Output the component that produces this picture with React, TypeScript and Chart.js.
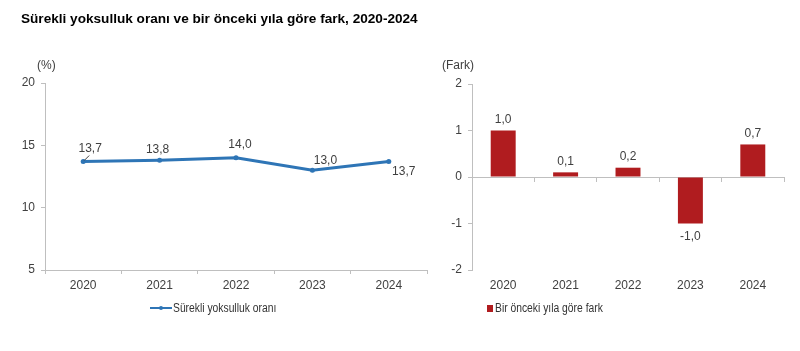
import React, { useEffect, useRef } from "react";
import { Chart, registerables } from "chart.js";

Chart.register(...registerables);

// ---- data ----
const years = ["2020", "2021", "2022", "2023", "2024"];
const rateValues = [13.7, 13.8, 14.0, 13.0, 13.7];
const diffValues = [1.0, 0.1, 0.2, -1.0, 0.7];
const rateTicks = [5, 10, 15, 20];
const diffTicks = [-2, -1, 0, 1, 2];
const titleText = "Sürekli yoksulluk oranı ve bir önceki yıla göre fark, 2020-2024";
const rateUnit = "(%)";
const diffUnit = "(Fark)";
const rateLegend = "Sürekli yoksulluk oranı";
const diffLegend = "Bir önceki yıla göre fark";

// ---- styles ----
const FONT = "'Liberation Sans', Arial, sans-serif";
const TEXT = "#404040";
const AXIS = "#bfbfbf";
const BLUE = "#2e75b6";
const RED = "#b01c1f";
// label offsets (dx, dy) relative to each point, in px
const rateLabelOffsets = [
  [7, -13],
  [-2, -11],
  [4, -13],
  [13, -10],
  [15, 10],
];

const fmt = (v: number) => v.toFixed(1).replace(".", ",");

const rateLabelPlugin = {
  id: "rateLabels",
  afterDatasetsDraw(chart: any) {
    const ctx = chart.ctx;
    const meta = chart.getDatasetMeta(0);
    ctx.save();
    ctx.font = `12px ${FONT}`;
    ctx.fillStyle = TEXT;
    ctx.textAlign = "center";
    ctx.textBaseline = "middle";
    meta.data.forEach((pt: any, i: number) => {
      const [dx, dy] = rateLabelOffsets[i];
      ctx.fillText(fmt(rateValues[i]), pt.x + dx, pt.y + dy);
    });
    // small leader line for the first label
    const p0 = meta.data[0];
    if (p0) {
      ctx.strokeStyle = "#404040";
      ctx.lineWidth = 1;
      ctx.beginPath();
      ctx.moveTo(p0.x + 1, p0.y - 1);
      ctx.lineTo(p0.x + 6, p0.y - 6);
      ctx.stroke();
    }
    ctx.restore();
  },
};

const diffLabelPlugin = {
  id: "diffLabels",
  afterDatasetsDraw(chart: any) {
    const ctx = chart.ctx;
    const meta = chart.getDatasetMeta(0);
    ctx.save();
    ctx.font = `12px ${FONT}`;
    ctx.fillStyle = TEXT;
    ctx.textAlign = "center";
    ctx.textBaseline = "middle";
    meta.data.forEach((bar: any, i: number) => {
      const v = diffValues[i];
      const y = v >= 0 ? bar.y - 11 : bar.y + 13;
      ctx.fillText(fmt(v), bar.x, y);
    });
    ctx.restore();
  },
};

const tickFont = { family: FONT, size: 12 };

function RateChart() {
  const ref = useRef<HTMLCanvasElement | null>(null);
  useEffect(() => {
    if (!ref.current) return;
    const chart = new Chart(ref.current, {
      type: "line",
      data: {
        labels: years,
        datasets: [
          {
            label: rateLegend,
            data: rateValues,
            borderColor: BLUE,
            backgroundColor: BLUE,
            borderWidth: 3,
            pointRadius: 2.5,
            pointBackgroundColor: BLUE,
            pointBorderWidth: 0,
            tension: 0,
          },
        ],
      },
      options: {
        responsive: false,
        animation: false,
        devicePixelRatio: 1,
        layout: { padding: { top: 83, left: 0, right: 8, bottom: 51 } },
        plugins: { legend: { display: false }, tooltip: { enabled: false } },
        scales: {
          x: {
            offset: true,
            grid: { display: true, offset: true, drawOnChartArea: false, drawTicks: true, tickLength: 4, color: AXIS },
            border: { display: true, color: AXIS },
            ticks: { font: tickFont, color: TEXT, padding: 4, maxRotation: 0 },
            afterFit: (s: any) => { s.height = 30; },
          },
          y: {
            min: 5,
            max: 20,
            afterBuildTicks: (s: any) => { s.ticks = rateTicks.map((v) => ({ value: v })); },
            grid: { display: true, drawOnChartArea: false, drawTicks: true, tickLength: 4, color: AXIS },
            border: { display: true, color: AXIS },
            ticks: { font: tickFont, color: TEXT, padding: 6 },
            afterFit: (s: any) => { s.width = 45; },
          },
        },
      },
      plugins: [rateLabelPlugin],
    } as any);
    return () => chart.destroy();
  }, []);
  return <canvas ref={ref} width={435} height={351} style={{ position: "absolute", left: 0, top: 0 }} />;
}

function DiffChart() {
  const ref = useRef<HTMLCanvasElement | null>(null);
  useEffect(() => {
    if (!ref.current) return;
    const chart = new Chart(ref.current, {
      type: "bar",
      data: {
        labels: years,
        datasets: [
          {
            label: diffLegend,
            data: diffValues,
            backgroundColor: RED,
            borderWidth: 0,
            categoryPercentage: 0.4,
            barPercentage: 1,
          },
        ],
      },
      options: {
        responsive: false,
        animation: false,
        devicePixelRatio: 1,
        layout: { padding: { top: 84, left: 0, right: 16, bottom: 51 } },
        plugins: { legend: { display: false }, tooltip: { enabled: false } },
        scales: {
          x: {
            offset: true,
            grid: { display: false },
            border: { display: false },
            ticks: { font: tickFont, color: TEXT, padding: 0, maxRotation: 0 },
            afterFit: (s: any) => { s.height = 30; },
          },
          x2: {
            type: "category",
            position: { y: 0 },
            offset: true,
            grid: { display: true, offset: true, drawOnChartArea: false, drawTicks: true, tickLength: 4, color: AXIS },
            border: { display: true, color: AXIS },
            ticks: { display: false },
          },
          y: {
            min: -2,
            max: 2,
            afterBuildTicks: (s: any) => { s.ticks = diffTicks.map((v) => ({ value: v })); },
            grid: { display: true, drawOnChartArea: false, drawTicks: true, tickLength: 4, color: AXIS },
            border: { display: true, color: AXIS },
            ticks: { font: tickFont, color: TEXT, padding: 6 },
            afterFit: (s: any) => { s.width = 37; },
          },
        },
      },
      plugins: [diffLabelPlugin],
    } as any);
    return () => chart.destroy();
  }, []);
  return <canvas ref={ref} width={365} height={351} style={{ position: "absolute", left: 435, top: 0 }} />;
}

export default function App() {
  const txt: React.CSSProperties = { position: "absolute", fontFamily: FONT, fontSize: 12, color: TEXT, whiteSpace: "nowrap", lineHeight: "14px" };
  const legendTxt: React.CSSProperties = { ...txt, color: "#333" };
  const narrow: React.CSSProperties = { display: "inline-block", transform: "scaleX(0.86)", transformOrigin: "left center" };
  return (
    <div style={{ position: "absolute", left: 0, top: 0, width: 800, height: 351, background: "#fff", overflow: "hidden" }}>
      <RateChart />
      <DiffChart />
      <div style={{ ...txt, left: 21, top: 11, fontSize: 13.6, fontWeight: "bold", color: "#000", lineHeight: "16px" }}>{titleText}</div>
      <div style={{ ...txt, left: 37, top: 58 }}>{rateUnit}</div>
      <div style={{ ...txt, left: 442, top: 58 }}>{diffUnit}</div>
      <div style={{ ...legendTxt, left: 150, top: 301, display: "flex", alignItems: "center" }}>
        <span style={{ position: "relative", display: "inline-block", width: 22, height: 14, marginRight: 1 }}>
          <span style={{ position: "absolute", left: 0, top: 6, width: 22, height: 2, background: BLUE }} />
          <span style={{ position: "absolute", left: 9, top: 5, width: 4, height: 4, borderRadius: 2, background: BLUE }} />
        </span>
        <span style={narrow}>{rateLegend}</span>
      </div>
      <div style={{ ...legendTxt, left: 487, top: 301, display: "flex", alignItems: "center" }}>
        <span style={{ display: "inline-block", width: 6, height: 7, background: RED, marginRight: 2 }} />
        <span style={narrow}>{diffLegend}</span>
      </div>
    </div>
  );
}
